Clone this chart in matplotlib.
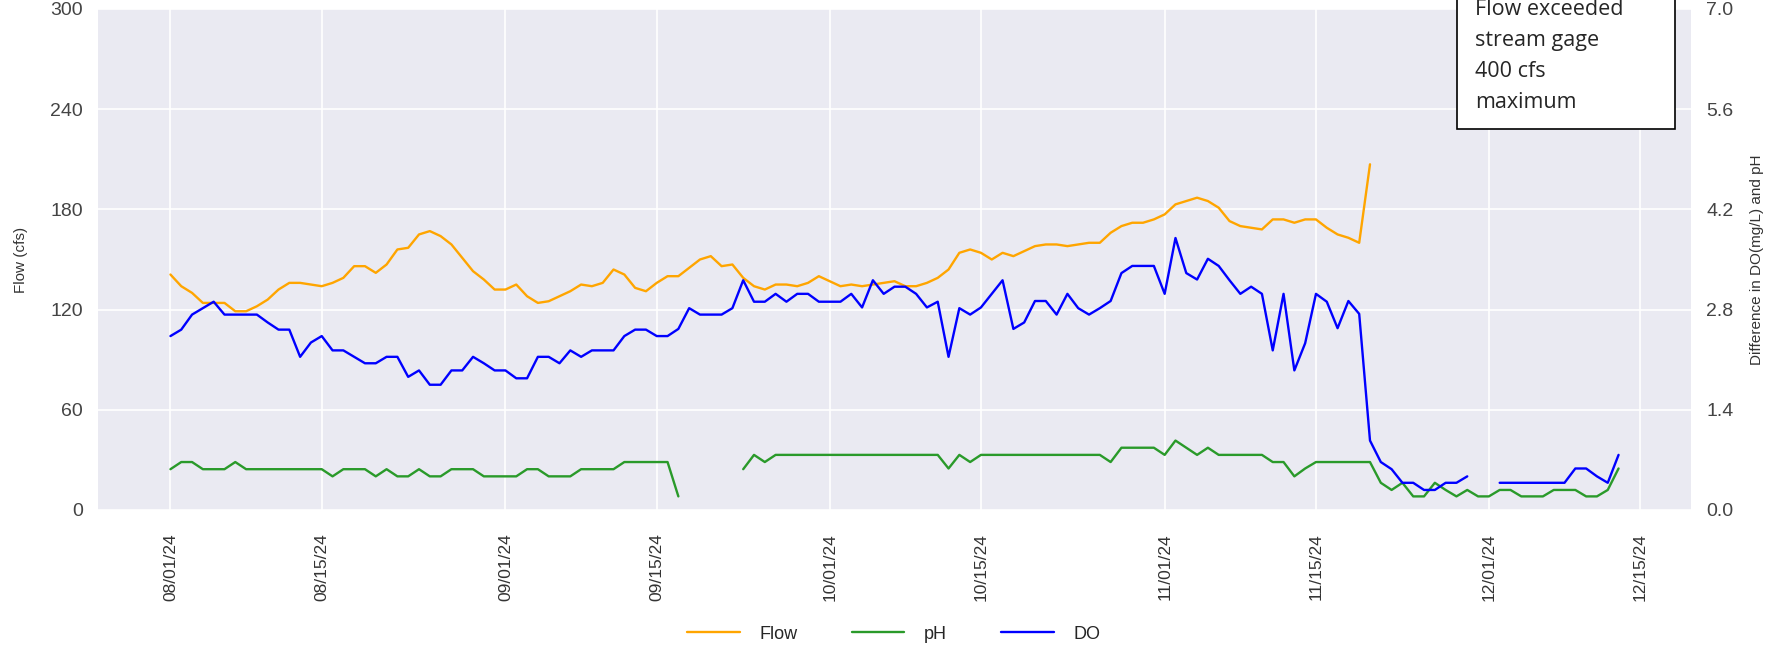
import numpy as np
import pandas as pd
import matplotlib
matplotlib.use('Agg')
import matplotlib.pyplot as plt
import matplotlib.dates as mdates
from matplotlib.patches import Rectangle

nan = np.nan

# daily readings, 08/01/24 .. 12/13/24
dates = pd.date_range('2024-08-01', periods=135, freq='D')

flow = [141, 134, 130, 124, 124, 124, 119, 119, 122, 126,
        132, 136, 136, 135, 134, 136, 139, 146, 146, 142,
        147, 156, 157, 165, 167, 164, 159, 151, 143, 138,
        132, 132, 135, 128, 124, 125,
        128, 131, 135, 134, 136, 144, 141, 133, 131, 136,
        140, 140, 145, 150, 152, 146, 147, 139, 134, 132,
        135, 135, 134, 136, 140, 137, 134, 135, 134, 135,
        136, 137, 134, 134, 136, 139,
        144, 154, 156, 154, 150, 154, 152, 155, 158, 159,
        159, 158, 159, 160, 160, 166, 170, 172, 172, 174,
        177, 183, 185, 187, 185, 181, 173, 170, 169, 168,
        174, 174, 172, 174, 174, 169,
        165, 163, 160, 207] + [nan] * 23

ph = [0.57, 0.67, 0.67, 0.57, 0.57, 0.57, 0.67, 0.57, 0.57, 0.57,
      0.57, 0.57, 0.57, 0.57, 0.57, 0.47, 0.57, 0.57, 0.57, 0.47,
      0.57, 0.47, 0.47, 0.57, 0.47, 0.47, 0.57, 0.57, 0.57, 0.47,
      0.47, 0.47, 0.47, 0.57, 0.57, 0.47,
      0.47, 0.47, 0.57, 0.57, 0.57, 0.57, 0.67, 0.67, 0.67, 0.67, 0.67, 0.19,
      nan, nan, nan, nan, nan,
      0.57, 0.77, 0.67, 0.77, 0.77, 0.77, 0.77, 0.77, 0.77, 0.77,
      0.77, 0.77, 0.77, 0.77, 0.77, 0.77, 0.77, 0.77, 0.77,
      0.58, 0.77, 0.67, 0.77, 0.77, 0.77, 0.77, 0.77, 0.77, 0.77,
      0.77, 0.77, 0.77, 0.77, 0.77, 0.67, 0.87, 0.87, 0.87, 0.87,
      0.77, 0.97, 0.87, 0.77, 0.87, 0.77, 0.77, 0.77, 0.77, 0.77,
      0.67, 0.67, 0.47, 0.58, 0.67, 0.67,
      0.67, 0.67, 0.67, 0.67,
      0.38, 0.28, 0.38, 0.19, 0.19, 0.38, 0.28, 0.19, 0.28, 0.19, 0.19,
      0.28, 0.28, 0.19, 0.19, 0.19, 0.28, 0.28, 0.28, 0.19, 0.19, 0.28, 0.58]

do = [2.43, 2.52, 2.73, 2.82, 2.91, 2.73, 2.73, 2.73, 2.73, 2.62,
      2.52, 2.52, 2.14, 2.34, 2.43, 2.23, 2.23, 2.14, 2.05, 2.05,
      2.14, 2.14, 1.86, 1.95, 1.75, 1.75, 1.95, 1.95, 2.14, 2.05,
      1.95, 1.95, 1.84, 1.84, 2.14, 2.14,
      2.05, 2.23, 2.14, 2.23, 2.23, 2.23, 2.43, 2.52, 2.52, 2.43,
      2.43, 2.53, 2.82, 2.73, 2.73, 2.73, 2.82, 3.21, 2.91, 2.91,
      3.02, 2.91, 3.02, 3.02, 2.91, 2.91, 2.91, 3.02, 2.83, 3.21,
      3.02, 3.12, 3.12, 3.02, 2.83, 2.91,
      2.14, 2.82, 2.73, 2.83, 3.02, 3.21, 2.53, 2.62, 2.92, 2.92,
      2.73, 3.02, 2.82, 2.73, 2.82, 2.92, 3.31, 3.41, 3.41, 3.41,
      3.02, 3.80, 3.31, 3.22, 3.51, 3.41, 3.21, 3.02, 3.12, 3.02,
      2.23, 3.02, 1.95, 2.33, 3.02, 2.91,
      2.54, 2.92, 2.74,
      0.97, 0.67, 0.57, 0.38, 0.38, 0.28, 0.28, 0.38, 0.38, 0.47,
      nan, nan,
      0.38, 0.38, 0.38, 0.38, 0.38, 0.38, 0.38, 0.58, 0.58, 0.47, 0.38, 0.77]

flow_ticks = [0, 60, 120, 180, 240, 300]
diff_ticks = [0.0, 1.4, 2.8, 4.2, 5.6, 7.0]

plt.style.use('seaborn-v0_8-darkgrid')
plt.rcParams['font.family'] = ['Liberation Sans', 'DejaVu Sans']

fig = plt.figure(figsize=(17.89, 6.51), dpi=100)
ax = fig.add_axes([0.0548, 0.2166, 0.8904, 0.7696])
ax2 = ax.twinx()

l1, = ax.plot(dates, flow, color='orange', lw=1.7, label='Flow')
l2, = ax2.plot(dates, ph, color='#2a9a2a', lw=1.7, label='pH')
l3, = ax2.plot(dates, do, color='blue', lw=1.7, label='DO')

ax.set_ylim(0, 300)
ax.set_yticks(flow_ticks)
ax2.set_ylim(0, 7.0)
ax2.set_yticks(diff_ticks)
ax2.set_yticklabels(['%.1f' % t for t in diff_ticks])
ax2.grid(False)
ax.grid(True, color='white', lw=1.2)

ax.xaxis.set_major_locator(mdates.DayLocator(bymonthday=[1, 15]))
ax.xaxis.set_major_formatter(mdates.DateFormatter('%m/%d/%y'))
ax.tick_params(axis='x', labelrotation=90, labelsize=12.5, pad=17, colors='#333333')
ax.tick_params(axis='y', labelsize=14, pad=11, colors='#444444')
ax2.tick_params(axis='y', labelsize=14, pad=11, colors='#444444')

ax.set_ylabel('Flow (cfs)', fontsize=11, color='#333333')
ax.yaxis.set_label_coords(-0.044, 0.5)
ax2.set_ylabel('Difference in DO(mg/L) and pH', fontsize=11, color='#333333')
ax2.yaxis.set_label_coords(1.037, 0.5)

for a in (ax, ax2):
    for s in a.spines.values():
        s.set_visible(False)

fig.legend(handles=[l1, l2, l3], loc='center', bbox_to_anchor=(0.4997, 0.026),
           ncol=3, frameon=False, fontsize=13, handlelength=2.9,
           handletextpad=1.1, columnspacing=3.0)

# note box (top cut off like the source image)
box = Rectangle((1457 / 1789, 522 / 651), 218 / 1789, 0.3, transform=fig.transFigure,
                facecolor='white', edgecolor='black', lw=1.2, zorder=5)
fig.add_artist(box)
fig.text(1475 / 1789, 595 / 651, 'Flow exceeded\nstream gage\n400 cfs\nmaximum',
         family=['Open Sans', 'DejaVu Sans'], fontsize=15.5, va='center', ha='left',
         linespacing=1.62, zorder=6)

plt.savefig('out.png', dpi=100)
